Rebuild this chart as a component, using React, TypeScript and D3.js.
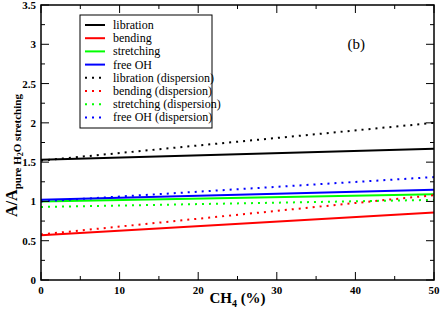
import React, { useEffect, useRef } from 'react';
import * as d3 from 'd3';

// CH4 concentration (%) at the two ends of each fitted line
const ch4 = [0, 50];

const libration = [1.53, 1.67];
const bending = [0.57, 0.86];
const stretching = [1.0, 1.09];
const freeOH = [1.02, 1.15];
const librationDisp = [1.52, 2.0];
const bendingDisp = [0.58, 1.08];
const stretchingDisp = [0.93, 1.02];
const freeOHDisp = [1.0, 1.31];

const xTicks = [0, 10, 20, 30, 40, 50];
const yTicks = [0, 0.5, 1, 1.5, 2, 2.5, 3, 3.5];

const series = [
  { name: 'libration', values: libration, color: '#000000', dotted: false },
  { name: 'bending', values: bending, color: '#ff0000', dotted: false },
  { name: 'stretching', values: stretching, color: '#00ff00', dotted: false },
  { name: 'free OH', values: freeOH, color: '#0000ff', dotted: false },
  { name: 'libration (dispersion)', values: librationDisp, color: '#000000', dotted: true },
  { name: 'bending (dispersion)', values: bendingDisp, color: '#ff0000', dotted: true },
  { name: 'stretching (dispersion)', values: stretchingDisp, color: '#00ff00', dotted: true },
  { name: 'free OH (dispersion)', values: freeOHDisp, color: '#0000ff', dotted: true },
];

const App: React.FC = () => {
  const svgRef = useRef<SVGSVGElement | null>(null);

  useEffect(() => {
    const svg = d3.select(svgRef.current);
    svg.selectAll('*').remove();

    const W = 442;
    const H = 312;
    const margin = { top: 5, right: 8, bottom: 32, left: 41 };
    const width = W - margin.left - margin.right;
    const height = H - margin.top - margin.bottom;

    const x = d3.scaleLinear().domain([0, 50]).range([0, width]);
    const y = d3.scaleLinear().domain([0, 3.5]).range([height, 0]);

    const g = svg.append('g').attr('transform', `translate(${margin.left},${margin.top})`);

    // data lines
    const line = d3
      .line<number>()
      .x((_, i) => x(ch4[i]))
      .y(d => y(d));

    series.forEach(s => {
      g.append('path')
        .datum(s.values)
        .attr('fill', 'none')
        .attr('stroke', s.color)
        .attr('stroke-width', 2)
        .attr('stroke-dasharray', s.dotted ? '2,5' : null)
        .attr('d', line);
    });

    // inward ticks on all four sides
    const ticks = g.append('g').attr('stroke', '#000').attr('stroke-width', 1);
    d3.range(0, 50.01, 5).forEach(v => {
      const len = v % 10 === 0 ? 8 : 4;
      ticks.append('line').attr('x1', x(v)).attr('x2', x(v)).attr('y1', height).attr('y2', height - len);
      ticks.append('line').attr('x1', x(v)).attr('x2', x(v)).attr('y1', 0).attr('y2', len);
    });
    d3.range(0, 3.51, 0.25).forEach(v => {
      const len = Math.abs((v * 2) % 1) < 1e-6 ? 8 : 4;
      ticks.append('line').attr('x1', 0).attr('x2', len).attr('y1', y(v)).attr('y2', y(v));
      ticks.append('line').attr('x1', width).attr('x2', width - len).attr('y1', y(v)).attr('y2', y(v));
    });

    // frame
    g.append('rect')
      .attr('width', width)
      .attr('height', height)
      .attr('fill', 'none')
      .attr('stroke', '#000')
      .attr('stroke-width', 1.5);

    // tick labels
    g.selectAll('.xl')
      .data(xTicks)
      .enter()
      .append('text')
      .attr('x', d => x(d))
      .attr('y', height + 14)
      .attr('text-anchor', 'middle')
      .attr('font-weight', 'bold')
      .attr('font-size', 11)
      .text(d => d);

    g.selectAll('.yl')
      .data(yTicks)
      .enter()
      .append('text')
      .attr('x', -5)
      .attr('y', d => y(d) + 4)
      .attr('text-anchor', 'end')
      .attr('font-weight', 'bold')
      .attr('font-size', 11)
      .text(d => d);

    // axis titles
    const xt = svg
      .append('text')
      .attr('x', margin.left + width / 2)
      .attr('y', 303)
      .attr('text-anchor', 'middle')
      .attr('font-weight', 'bold')
      .attr('font-size', 15);
    xt.append('tspan').text('CH');
    xt.append('tspan').attr('font-size', 10).attr('dy', 4).text('4');
    xt.append('tspan').attr('dy', -4).text(' (%)');

    const yt = svg
      .append('text')
      .attr('transform', `translate(17,${margin.top + height / 2 + 13}) rotate(-90)`)
      .attr('text-anchor', 'middle')
      .attr('font-weight', 'bold')
      .attr('font-size', 16);
    yt.append('tspan').text('A/A');
    yt.append('tspan').attr('font-size', 11).attr('dy', 4).text('pure H');
    yt.append('tspan').attr('font-size', 8).attr('dy', 2).text('2');
    yt.append('tspan').attr('font-size', 11).attr('dy', -2).text('O stretching');

    // panel label
    g.append('text')
      .attr('x', x(39))
      .attr('y', y(3.0) + 5)
      .attr('font-size', 15)
      .text('(b)');

    // legend
    const lg = svg.append('g').attr('transform', 'translate(80,15)');
    lg.append('rect')
      .attr('width', 132)
      .attr('height', 113)
      .attr('fill', '#fff')
      .attr('stroke', '#000')
      .attr('stroke-width', 1);
    series.forEach((s, i) => {
      const ly = 10 + i * 13.2;
      lg.append('line')
        .attr('x1', 5)
        .attr('x2', 25)
        .attr('y1', ly)
        .attr('y2', ly)
        .attr('stroke', s.color)
        .attr('stroke-width', 2)
        .attr('stroke-dasharray', s.dotted ? '2,5' : null);
      lg.append('text')
        .attr('x', 33)
        .attr('y', ly + 4)
        .attr('font-size', 12)
        .text(s.name);
    });
  }, []);

  return (
    <svg
      ref={svgRef}
      width={442}
      height={312}
      style={{ display: 'block', position: 'absolute', left: 0, top: 0, fontFamily: 'Liberation Serif, Times New Roman, serif' }}
    />
  );
};

export default App;
